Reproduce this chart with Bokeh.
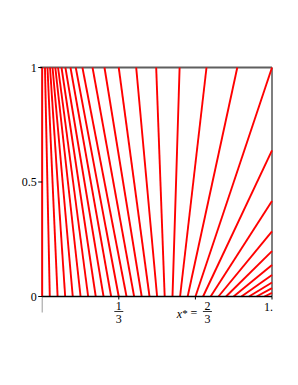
from bokeh.plotting import figure
from bokeh.models import Range1d, ColumnDataSource
from bokeh.core.properties import value
from bokeh.embed import file_html
from bokeh.resources import INLINE

# ---- data ----
# starting point of each characteristic on the x axis (t = 0)
x_start = [0.000, 0.033, 0.067, 0.100, 0.133, 0.167, 0.200, 0.233, 0.267, 0.300,
           0.333, 0.367, 0.400, 0.433, 0.467, 0.500, 0.533, 0.567, 0.600, 0.633,
           0.667, 0.700, 0.733, 0.767, 0.800, 0.833, 0.867, 0.900, 0.933, 0.967, 1.000]
# x position of the same straight line at t = 1 (values > 1 leave through the right edge)
x_at_top = [0.000, 0.012, 0.023, 0.034, 0.045, 0.057, 0.069, 0.084, 0.101, 0.123,
            0.146, 0.175, 0.219, 0.271, 0.333, 0.409, 0.496, 0.598, 0.715, 0.849,
            1.000, 1.170, 1.373, 1.587, 1.810, 2.043, 2.287, 2.530, 2.783, 3.037, 3.300]

y_ticks = [0, 0.5, 1]
y_tick_labels = ["0", "0.5", "1"]
x_ticks = [1 / 3, 2 / 3, 1]

# ---- clip each line to the unit box ----
x0s, y0s, x1s, y1s = [], [], [], []
for a, b in zip(x_start, x_at_top):
    x0s.append(a)
    y0s.append(0.0)
    if b <= 1.0:
        x1s.append(b)
        y1s.append(1.0)
    else:
        x1s.append(1.0)
        y1s.append((1.0 - a) / (b - a))
src = ColumnDataSource(dict(x0=x0s, y0=y0s, x1=x1s, y1=y1s))

# ---- layout (figure pixels) ----
W, H = 290, 377
fl, fr, ft, fb = 41.7, 271.5, 67.0, 296.0
sx = fr - fl
sy = fb - ft
xr = Range1d(-fl / sx, (W - fl) / sx)
yr = Range1d(-(H - fb) / sy, 1 + ft / sy)

p = figure(width=W, height=H, x_range=xr, y_range=yr, output_backend="svg",
           toolbar_location=None, x_axis_location=None, y_axis_location=None,
           min_border=0, outline_line_color=None)
p.grid.visible = False
p.background_fill_color = "white"
p.border_fill_color = "white"

px = 1.0 / sx
py = 1.0 / sy
FONT = value("Liberation Serif")

# box: top and right borders
p.line(x=[-2 * px, 1], y=[1, 1], line_color="#5f5f5f", line_width=2)
p.line(x=[1, 1], y=[0, 1], line_color="#5f5f5f", line_width=1.6)

# axes lines
p.line(x=[0, 0], y=[0, 1], line_color="black", line_width=1)
p.line(x=[0, 0], y=[0, -16 * py], line_color="#9a9a9a", line_width=1)

# characteristics
p.segment(x0="x0", y0="y0", x1="x1", y1="y1", source=src,
          line_color="#ff0000", line_width=1.9)

p.line(x=[0, 1], y=[0, 0], line_color="black", line_width=1.5)

# y ticks and labels
p.segment(x0=[-4 * px] * len(y_ticks), y0=y_ticks, x1=[0] * len(y_ticks), y1=y_ticks,
          line_color="black", line_width=1)
p.text(x=[-5.5 * px] * len(y_ticks), y=y_ticks, text=y_tick_labels,
       text_align="right", text_baseline="middle", text_font=FONT,
       text_font_size="12px", text_color="black")

# x ticks
p.segment(x0=x_ticks, y0=[0] * 3, x1=x_ticks, y1=[-3 * py] * 3,
          line_color="black", line_width=1)

# x tick labels: 1/3
num_y = -9.5 * py
bar_y = -15 * py
den_y = -22.5 * py
p.text(x=[x_ticks[0]], y=[num_y], text=["1"], text_align="center", text_baseline="middle",
       text_font=FONT, text_font_size="12px", text_color="black")
p.segment(x0=[x_ticks[0] - 4.5 * px], y0=[bar_y], x1=[x_ticks[0] + 4.5 * px], y1=[bar_y],
          line_color="black", line_width=0.8)
p.text(x=[x_ticks[0]], y=[den_y], text=["3"], text_align="center", text_baseline="middle",
       text_font=FONT, text_font_size="12px", text_color="black")

# x* = 2/3
fx = x_ticks[1] + 12 * px
p.text(x=[x_ticks[1] - 16 * px], y=[-17 * py], text=["x"], text_align="center",
       text_baseline="middle", text_font=FONT, text_font_style="italic",
       text_font_size="12px", text_color="black")
p.text(x=[x_ticks[1] - 10.5 * px], y=[-16 * py], text=["*"], text_align="center",
       text_baseline="middle", text_font=FONT, text_font_size="11px", text_color="black")
p.text(x=[x_ticks[1] - 1.5 * px], y=[-16 * py], text=["="], text_align="center",
       text_baseline="middle", text_font=FONT, text_font_size="12px", text_color="black")
p.text(x=[fx], y=[num_y], text=["2"], text_align="center", text_baseline="middle",
       text_font=FONT, text_font_size="12px", text_color="black")
p.segment(x0=[fx - 4.5 * px], y0=[bar_y], x1=[fx + 4.5 * px], y1=[bar_y],
          line_color="black", line_width=0.8)
p.text(x=[fx], y=[den_y], text=["3"], text_align="center", text_baseline="middle",
       text_font=FONT, text_font_size="12px", text_color="black")

# 1.
p.text(x=[x_ticks[2] - 8 * px], y=[-10 * py], text=["1."], text_align="left",
       text_baseline="middle", text_font=FONT, text_font_size="12px", text_color="black")

open("out.html", "w").write(file_html(p, INLINE))
